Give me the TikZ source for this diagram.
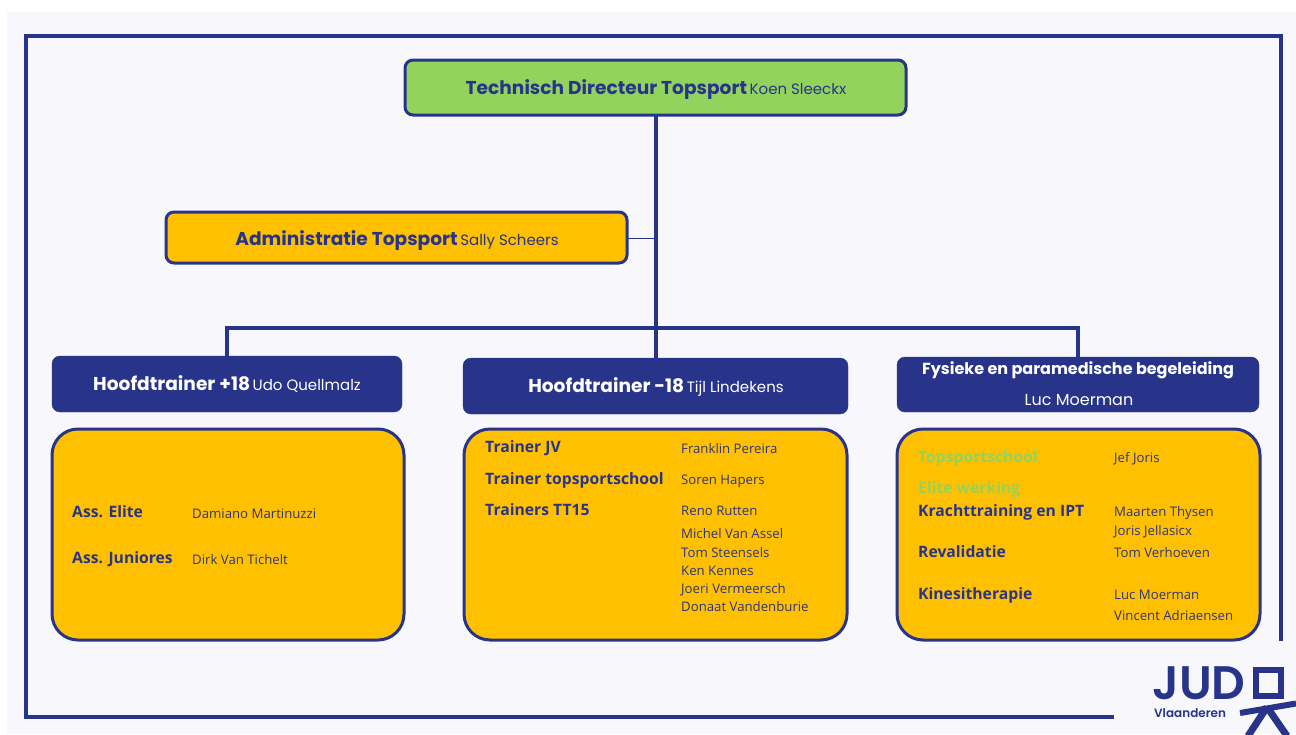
\documentclass[tikz,border=0pt]{standalone}
\usepackage{fontspec}
\setmainfont{Open Sans}
\newfontfamily\pop{Poppins}
\newfontfamily\popb{Poppins}[UprightFont=* Bold]
\newfontfamily\pops{Poppins}[UprightFont=* SemiBold]
\definecolor{navy}{HTML}{28348A}
\definecolor{panelbg}{HTML}{F8F8FC}
\definecolor{gold}{HTML}{FFC000}
\definecolor{lime}{HTML}{92D35E}
\definecolor{namec}{HTML}{2F3580}
\tikzset{
  x=1pt,y=-1pt,
  box/.style={draw=navy,line width=3pt,rounded corners=#1,inner sep=0pt},
  box/.default=8pt,
  hd/.style={fill=navy,draw=navy,rounded corners=8pt,inner sep=0pt},
  conn/.style={draw=navy,line width=3.2pt},
  lab/.style={anchor=base west,inner sep=0pt,font=\fontsize{15.7}{16}\selectfont\bfseries,text=navy},
  nam/.style={anchor=base west,inner sep=0pt,font=\fontsize{13.2}{13}\selectfont,text=namec},
  ttl/.style={inner sep=0pt,anchor=base,text=navy},
}
\newcommand{\bigt}[1]{{\fontsize{18.6}{19}\selectfont\popb #1}}
\newcommand{\smt}[1]{{\fontsize{15}{15}\selectfont\pop #1}}
\begin{document}
\begin{tikzpicture}
\useasboundingbox (0,0) rectangle (1296,734);
\fill[white] (0,0) rectangle (1296,734);
\fill[panelbg] (7,12) rectangle (1296,734);
% frame
\coordinate (f1) at (1114,717); \coordinate (f2) at (26,717); \coordinate (f3) at (26,36);
\coordinate (f4) at (1281,36); \coordinate (f5) at (1281,641);
\draw[navy,line width=4pt,line join=miter] (f1) -- (f2) -- (f3) -- (f4) -- (f5);
% boxes
\path[box,fill=lime] (405,60) rectangle (906,115);
\coordinate (topb) at (656,115);
\path[box,fill=gold] (166,212) rectangle (627,263);
\path[hd] (52,356) rectangle (402,412);
\path[hd] (463,358) rectangle (848,414);
\path[hd] (897,357) rectangle (1259,412);
\path[box=26pt,fill=gold] (52,429) rectangle (404,640);
\path[box=26pt,fill=gold] (464,429) rectangle (847,640);
\path[box=26pt,fill=gold] (897,429) rectangle (1260,640);
% connectors
\coordinate (j1) at (656,328); \coordinate (a1) at (628,238); \coordinate (a2) at (656,238);
\coordinate (l1) at (227,328); \coordinate (l2) at (227,356);
\coordinate (r1) at (1078,328); \coordinate (r2) at (1078,357); \coordinate (m2) at (656,358);
\draw[conn] (topb) -- (m2);
\draw[conn] (l2) -- (l1) -- (r1) -- (r2);
\draw[navy,line width=1pt] (a1) -- (a2);
% titles
\node[ttl] (t1) at (656,94) {\bigt{Technisch Directeur Topsport} \smt{Koen Sleeckx}};
\node[ttl] (t2) at (397,245) {\bigt{Administratie Topsport} \smt{Sally Scheers}};
\node[ttl,text=white] (t3) at (227,390) {\bigt{Hoofdtrainer +18} \smt{Udo Quellmalz}};
\node[ttl,text=white] (t4) at (656,392) {\bigt{Hoofdtrainer -18} \smt{Tijl Lindekens}};
\node[ttl,text=white] (t5) at (1078,374) {{\fontsize{16}{16}\selectfont\popb Fysieke en paramedische begeleiding}};
\node[ttl,text=white] (t6) at (1079,405) {{\fontsize{16}{16}\selectfont\pop Luc Moerman}};
% left
\node[lab] (a) at (72,517) {Ass. Elite};
\node[lab] (b) at (72,563) {Ass. Juniores};
\node[nam] (c) at (192,518) {Damiano Martinuzzi};
\node[nam] (d) at (192,564) {Dirk Van Tichelt};
% middle
\node[lab] (e) at (485,452) {Trainer JV};
\node[lab] (f) at (485,484) {Trainer topsportschool};
\node[lab] (g) at (485,515) {Trainers TT15};
\node[nam] (h) at (681,453) {Franklin Pereira};
\node[nam] (i) at (681,484) {Soren Hapers};
\node[nam] (j) at (681,515) {Reno Rutten};
\node[nam] (k) at (681,538) {Michel Van Assel};
\node[nam] (l) at (681,557) {Tom Steensels};
\node[nam] (m) at (681,575) {Ken Kennes};
\node[nam] (n) at (681,593) {Joeri Vermeersch};
\node[nam] (o) at (681,611) {Donaat Vandenburie};
% right
\node[lab,text=lime] (p) at (918,462) {Topsportschool};
\node[lab,text=lime] (q) at (918,493) {Elite werking};
\node[lab] (r) at (918,516) {Krachttraining en IPT};
\node[lab] (s) at (918,557) {Revalidatie};
\node[lab] (t) at (918,599) {Kinesitherapie};
\node[nam] (u) at (1114,462) {Jef Joris};
\node[nam] (v) at (1114,516) {Maarten Thysen};
\node[nam] (w) at (1114,535) {Joris Jellasicx};
\node[nam] (x) at (1114,557) {Tom Verhoeven};
\node[nam] (y) at (1114,599) {Luc Moerman};
\node[nam] (z) at (1114,620) {Vincent Adriaensen};
% logo
\node[anchor=base west,inner sep=0pt,text=navy] (jud) at (1152,699) {\fontsize{47}{47}\selectfont\pops JUD};
\node[anchor=base west,inner sep=0pt,text=navy] (vl) at (1154,717) {\fontsize{12}{12}\selectfont\pops Vlaanderen};
\draw[navy,line width=6.5pt] (1256,670) rectangle (1281,696);
\draw[navy,line width=6pt] (1240,713) -- (1296,703.5);
\draw[navy,line width=7pt] (1267,707) -- (1248,736);
\draw[navy,line width=7pt] (1267,707) -- (1287,736);
\end{tikzpicture}
\end{document}
